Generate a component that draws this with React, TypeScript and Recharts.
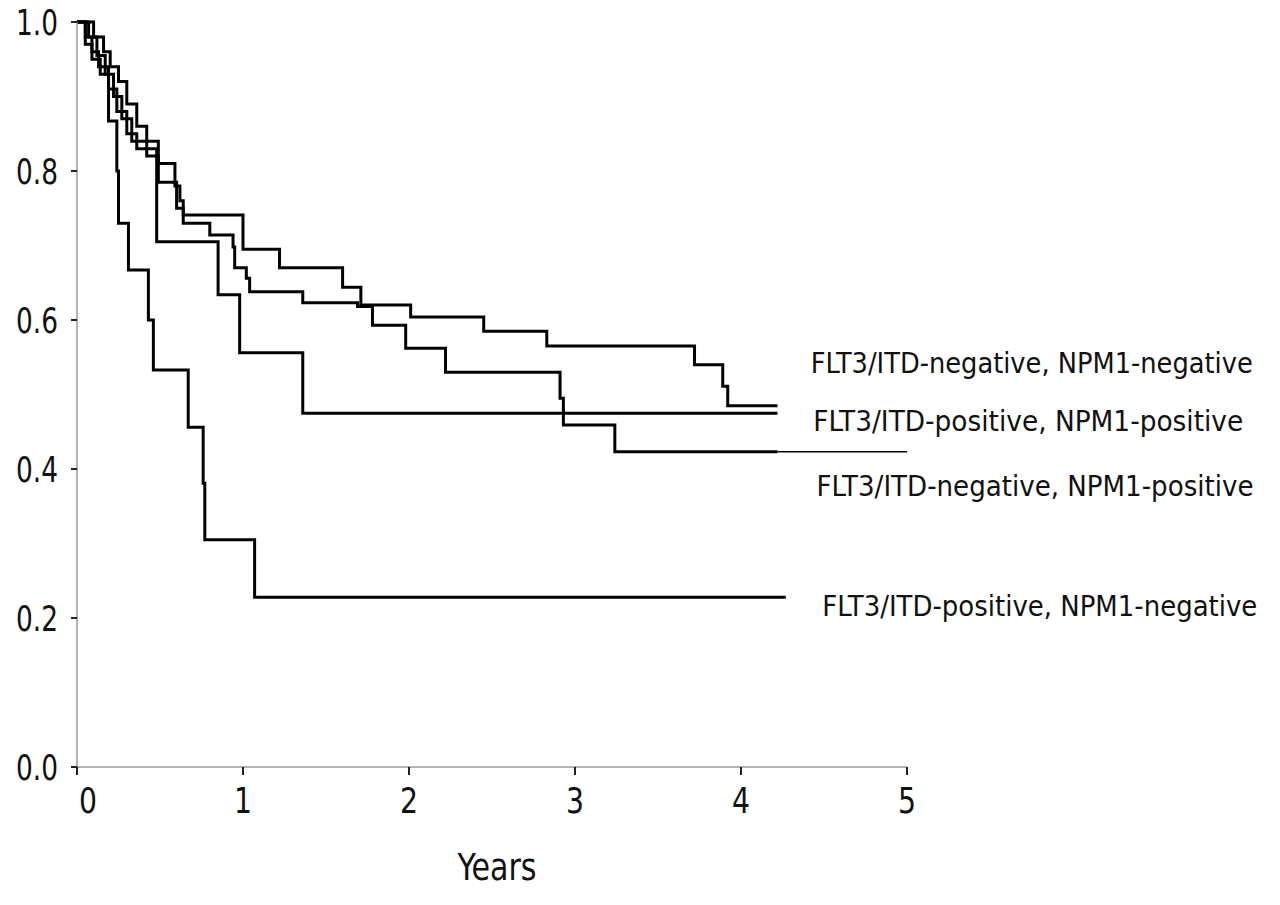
import React from 'react';
import { LineChart, Line, XAxis, YAxis, ReferenceDot } from 'recharts';

type Pt = { t: number; s: number };
const mk = (rows: number[][]): Pt[] => rows.map(([t, s]) => ({ t, s }));

// FLT3/ITD-negative, NPM1-negative
const negNeg = mk([
  [0, 1], [0.1, 0.98], [0.16, 0.96], [0.2, 0.94], [0.25, 0.92], [0.3, 0.89], [0.36, 0.86],
  [0.42, 0.84], [0.49, 0.81], [0.59, 0.78], [0.62, 0.76], [0.64, 0.741], [1.0, 0.695],
  [1.22, 0.67], [1.6, 0.644], [1.71, 0.62], [2.01, 0.604], [2.45, 0.585], [2.83, 0.565],
  [3.72, 0.54], [3.89, 0.511], [3.92, 0.485], [4.22, 0.485],
]);
// FLT3/ITD-negative, NPM1-positive
const negPos = mk([
  [0, 1], [0.07, 0.98], [0.12, 0.955], [0.17, 0.93], [0.22, 0.9], [0.27, 0.87], [0.33, 0.84],
  [0.42, 0.82], [0.49, 0.785], [0.6, 0.75], [0.64, 0.73], [0.8, 0.714], [0.94, 0.698],
  [0.95, 0.67], [1.02, 0.656], [1.04, 0.638], [1.36, 0.623], [1.69, 0.618], [1.78, 0.593],
  [1.98, 0.562], [2.22, 0.53], [2.91, 0.495], [2.93, 0.459], [3.24, 0.423], [4.22, 0.423],
]);
const negPosTail = mk([[4.22, 0.423], [5, 0.423]]);
// FLT3/ITD-positive, NPM1-positive
const posPos = mk([
  [0, 1], [0.05, 0.97], [0.09, 0.95], [0.14, 0.93], [0.19, 0.91], [0.24, 0.88], [0.3, 0.85],
  [0.36, 0.83], [0.48, 0.705], [0.85, 0.634], [0.98, 0.556], [1.36, 0.475], [4.22, 0.475],
]);
// FLT3/ITD-positive, NPM1-negative
const posNeg = mk([
  [0, 1], [0.05, 0.98], [0.09, 0.96], [0.13, 0.94], [0.19, 0.867], [0.24, 0.8], [0.25, 0.73],
  [0.31, 0.667], [0.43, 0.6], [0.46, 0.533], [0.67, 0.456], [0.76, 0.381], [0.77, 0.305],
  [1.07, 0.228], [4.27, 0.228],
]);

const xTicks = [0, 1, 2, 3, 4, 5];
const yTicks = [0, 0.2, 0.4, 0.6, 0.8, 1.0];

const labelNames = [
  'FLT3/ITD-negative, NPM1-negative',
  'FLT3/ITD-positive, NPM1-positive',
  'FLT3/ITD-negative, NPM1-positive',
  'FLT3/ITD-positive, NPM1-negative',
];
const labelX = [4.42, 4.435, 4.455, 4.49];
const labelY = [0.541, 0.464, 0.376, 0.216];
const labelW = [442, 430, 437, 435];

const FONT = '"Liberation Sans Narrow", "DejaVu Sans Condensed", "Arial Narrow", sans-serif';

const LabelText = (text: string, w: number) => (props: any) => {
  const { viewBox } = props;
  return (
    <text x={viewBox.x} y={viewBox.y} dominantBaseline="central" textAnchor="start"
      fontFamily={FONT} fontSize={28} fill="#111" textLength={w} lengthAdjust="spacingAndGlyphs">{text}</text>
  );
};

const XTick = (props: any) => {
  const { x, y, payload } = props;
  const dx = payload.value === 0 ? 11 : 0;
  return (
    <text x={x + dx} y={y} dy={28} textAnchor="middle" fontFamily={FONT} fontSize={35}
      fill="#111" textLength={18} lengthAdjust="spacingAndGlyphs">{String(payload.value)}</text>
  );
};

const YTick = (props: any) => {
  const { x, y, payload } = props;
  return (
    <text x={x} y={y} dominantBaseline="central" textAnchor="end" fontFamily={FONT} fontSize={36}
      fill="#111" textLength={42} lengthAdjust="spacingAndGlyphs">{Number(payload.value).toFixed(1)}</text>
  );
};

const YearsLabel = (props: any) => {
  const { viewBox } = props;
  const cx = viewBox.x + viewBox.width / 2 + 5;
  return (
    <text x={cx} y={viewBox.y + 113} textAnchor="middle" fontFamily={FONT} fontSize={38}
      fill="#111" textLength={79} lengthAdjust="spacingAndGlyphs">Years</text>
  );
};

export default function App() {
  return (
    <div style={{ background: '#fff', marginTop: -8 }}>
      <LineChart width={1264} height={897} margin={{ top: 22, right: 365, bottom: 10, left: 9 }}>
        <XAxis
          type="number" dataKey="t" domain={[0, 5]} ticks={xTicks} allowDataOverflow
          tickSize={8} tickMargin={10}
          tick={XTick}
          axisLine={{ stroke: '#999', strokeWidth: 1.5 }}
          tickLine={{ stroke: '#222', strokeWidth: 2 }}
          height={120}
          label={YearsLabel}
        />
        <YAxis
          type="number" domain={[0, 1]} ticks={yTicks} width={60}
          tickSize={6} tickMargin={13}
          tick={YTick}
          axisLine={{ stroke: '#999', strokeWidth: 1.5 }}
          tickLine={{ stroke: '#222', strokeWidth: 2 }}
        />
        <Line data={negNeg} dataKey="s" type="stepAfter" stroke="#000" strokeWidth={3} dot={false} isAnimationActive={false} />
        <Line data={negPos} dataKey="s" type="stepAfter" stroke="#000" strokeWidth={3} dot={false} isAnimationActive={false} />
        <Line data={negPosTail} dataKey="s" type="stepAfter" stroke="#000" strokeWidth={1.5} dot={false} isAnimationActive={false} />
        <Line data={posPos} dataKey="s" type="stepAfter" stroke="#000" strokeWidth={3} dot={false} isAnimationActive={false} />
        <Line data={posNeg} dataKey="s" type="stepAfter" stroke="#000" strokeWidth={3} dot={false} isAnimationActive={false} />
        {labelNames.map((n, i) => (
          <ReferenceDot key={n} x={labelX[i]} y={labelY[i]} r={0} stroke="none" fill="none"
            ifOverflow="visible" label={LabelText(n, labelW[i])} />
        ))}
      </LineChart>
    </div>
  );
}
